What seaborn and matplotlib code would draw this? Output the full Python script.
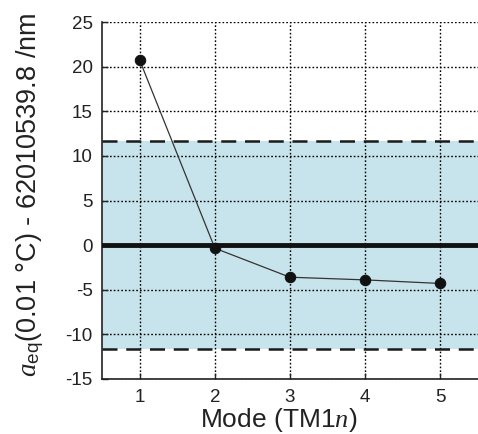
import matplotlib
matplotlib.use("Agg")
import matplotlib.pyplot as plt
import seaborn as sns
import pandas as pd

modes = [1, 2, 3, 4, 5]
values = [20.7, -0.35, -3.6, -3.9, -4.3]
band_limit = 11.7
y_ticks = [-15, -10, -5, 0, 5, 10, 15, 20, 25]

sns.set_theme(style="white")
plt.rcParams['font.family'] = ['Liberation Sans', 'DejaVu Sans']
plt.rcParams['mathtext.fontset'] = 'custom'
plt.rcParams['mathtext.rm'] = 'Liberation Sans'
plt.rcParams['mathtext.it'] = 'Liberation Serif:italic'
plt.rcParams['axes.unicode_minus'] = False

df = pd.DataFrame({"mode": modes, "value": values})

fig = plt.figure(figsize=(4.78, 4.34), dpi=100)
ax = fig.add_axes([0.214, 0.127, 0.785, 0.822])

ax.axhspan(-band_limit, band_limit, color="#c7e4ec", zorder=0, lw=0)
ax.axhline(band_limit, color="#1a1a1a", ls=(0, (6, 3.5)), lw=1.8, zorder=2)
ax.axhline(-band_limit, color="#1a1a1a", ls=(0, (6, 3.5)), lw=1.8, zorder=2)
ax.axhline(0, color="#111111", lw=3.5, zorder=3)

sns.lineplot(data=df, x="mode", y="value", ax=ax, color="#333333", lw=0.9,
             marker="o", markersize=7.5, markerfacecolor="#111111",
             markeredgecolor="#111111", zorder=4)

ax.set_xlim(0.5, 5.5)
ax.set_ylim(-15, 25)
ax.set_xticks(modes)
ax.set_yticks(y_ticks)
ax.grid(True, color="black", ls=(0, (1.2, 1.5)), lw=1.0, zorder=1)
for line in ax.get_xgridlines() + ax.get_ygridlines():
    line.set_zorder(1)

for s in ["top", "right"]:
    ax.spines[s].set_visible(False)
for s in ["left", "bottom"]:
    ax.spines[s].set_color("#222222")
    ax.spines[s].set_linewidth(1.2)

ax.tick_params(axis="both", direction="in", length=4, width=1, colors="#222222",
               labelsize=13.5, labelcolor="#222222", left=True, bottom=True, pad=7)

ax.set_xlabel("Mode (TM1$n$)", fontsize=19, color="#222222", labelpad=0)
ax.xaxis.label.set_x(0.469)
ax.set_ylabel(r"$a_{\mathrm{eq}}$(0.01 °C) - 62010539.8 /nm", fontsize=19.5,
              color="#222222", labelpad=14)
ax.yaxis.label.set_y(0.515)

fig.savefig("out.png", dpi=100)
